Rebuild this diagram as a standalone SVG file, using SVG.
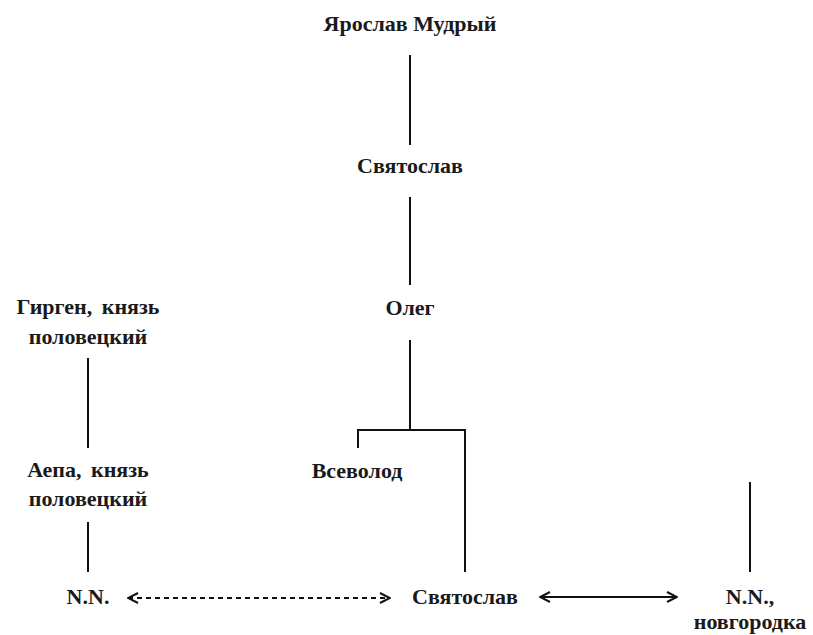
<svg xmlns="http://www.w3.org/2000/svg" width="813" height="635" viewBox="0 0 813 635">
<defs>
<style>
text{font-family:"Liberation Serif","Times New Roman",serif;font-size:22px;font-weight:bold;fill:#1a1a1a;text-anchor:middle}
.ln{stroke:#111;stroke-width:2;fill:none}
.dash{stroke-dasharray:5,4}
</style>
<marker id="ah" viewBox="0 0 12 12" refX="11" refY="6" markerWidth="12" markerHeight="12" markerUnits="userSpaceOnUse" orient="auto-start-reverse">
<path d="M1,1 L11,6 L1,11" fill="none" stroke="#111" stroke-width="2"/>
</marker>
</defs>
<rect width="813" height="635" fill="#fff"/>
<g id="connectors">
<line class="ln" x1="410" y1="55" x2="410" y2="145"/>
<line class="ln" x1="410" y1="197" x2="410" y2="285"/>
<line class="ln" x1="410" y1="340" x2="410" y2="430"/>
<polyline class="ln" points="358,448 358,430 465,430 465,572"/>
<line class="ln" x1="88" y1="358" x2="88" y2="448"/>
<line class="ln" x1="88" y1="522" x2="88" y2="572"/>
<line class="ln" x1="750" y1="482" x2="750" y2="572"/>
<line class="ln dash" x1="128" y1="598" x2="390" y2="598" marker-start="url(#ah)" marker-end="url(#ah)"/>
<line class="ln" x1="540" y1="597" x2="677" y2="597" marker-start="url(#ah)" marker-end="url(#ah)"/>
</g>
<g id="yaroslav"><text x="410" y="31">Ярослав Мудрый</text></g>
<g id="svyatoslav1"><text x="410" y="173">Святослав</text></g>
<g id="oleg"><text x="410" y="315">Олег</text></g>
<g id="girgen"><text x="88" y="314" word-spacing="4">Гирген, князь</text><text x="88" y="344">половецкий</text></g>
<g id="aepa"><text x="88" y="477" word-spacing="4">Аепа, князь</text><text x="88" y="506">половецкий</text></g>
<g id="vsevolod"><text x="357" y="478">Всеволод</text></g>
<g id="nn1"><text x="88" y="604">N.N.</text></g>
<g id="svyatoslav2"><text x="465" y="604">Святослав</text></g>
<g id="nn2"><text x="750" y="604">N.N.,</text><text x="750" y="629">новгородка</text></g>
</svg>
